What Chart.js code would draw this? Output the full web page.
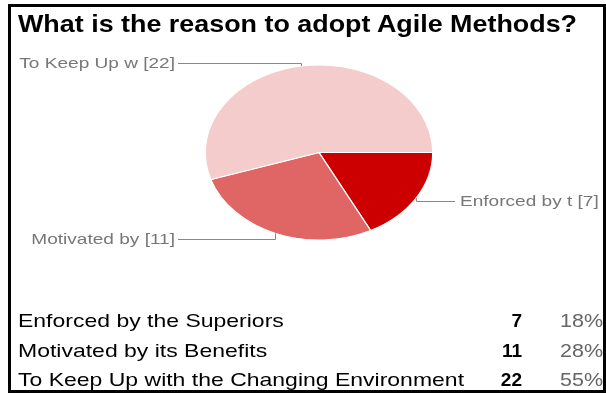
<!DOCTYPE html>
<html>
<head>
<meta charset="utf-8">
<script src="https://cdn.jsdelivr.net/npm/chart.js@4.4.1/dist/chart.umd.min.js"></script>
<style>
  body { margin: 0; background: #fff; }
  #wrap { position: relative; width: 606px; height: 394px; overflow: hidden; font-family: "Liberation Sans", Arial, sans-serif; }
  #frame { position: absolute; left: 8px; top: 4px; width: 598px; height: 389px; border: 3px solid #000; box-sizing: border-box; }
  #pie { position: absolute; left: 0; top: 0; }
  #title { position: absolute; left: 18px; top: 12px; font-size: 24px; line-height: 24px; font-weight: bold; color: #000; white-space: nowrap; transform: scaleX(1.12); transform-origin: left center; }
  .row { position: absolute; left: 0; width: 606px; height: 19px; font-size: 19px; line-height: 19px; }
  .row span { position: absolute; top: 0; white-space: nowrap; }
  .lbl { left: 18px; color: #000; transform: scaleX(1.21); transform-origin: left center; }
  .val { right: 84px; font-weight: bold; color: #000; }
  .pct { right: 3px; color: #666; transform: scaleX(1.13); transform-origin: right center; }
</style>
</head>
<body>
<div id="wrap">
  <canvas id="pie" width="606" height="394"></canvas>
  <div id="frame"></div>
  <div id="title">What is the reason to adopt Agile Methods?</div>
  <div id="table"></div>
</div>
<script>
// answers, counts and the cut-off names shown next to the pie
let categories = ["Enforced by the Superiors", "Motivated by its Benefits", "To Keep Up with the Changing Environment"];
let shortLabels = ["Enforced by t", "Motivated by", "To Keep Up w"];
let counts = [7, 11, 22];
let sliceColors = ["#cc0000", "#e06666", "#f4cccc"];

let stretchX = 1.3; // the reference picture is stretched sideways
let labelStretch = 1.27;

// build the table under the chart
let total = counts.reduce((a, b) => a + b, 0);
let tableDiv = document.getElementById("table");
let rowTops = [311, 341, 370];
categories.forEach(function (name, i) {
  let row = document.createElement("div");
  row.className = "row";
  row.style.top = rowTops[i] + "px";
  let pct = Math.round((counts[i] / total) * 100) + "%";
  row.innerHTML = `<span class="lbl">${name}</span><span class="val">${counts[i]}</span><span class="pct">${pct}</span>`;
  tableDiv.appendChild(row);
});

// squash the pie into an ellipse
let ellipsePlugin = {
  id: "ellipse",
  beforeDatasetsDraw(chart) {
    let arc = chart.getDatasetMeta(0).data[0];
    let ctx = chart.ctx;
    ctx.save();
    ctx.translate(arc.x, arc.y);
    ctx.scale(stretchX, 1);
    ctx.translate(-arc.x, -arc.y);
  },
  afterDatasetsDraw(chart) {
    chart.ctx.restore();
  },
};

// leader lines and slice labels
let labelPlugin = {
  id: "sliceLabels",
  afterDraw(chart) {
    let ctx = chart.ctx;
    let arcs = chart.getDatasetMeta(0).data;
    ctx.save();
    ctx.font = "15px 'Liberation Sans', Arial, sans-serif";
    ctx.fillStyle = "#777";
    ctx.strokeStyle = "#888";
    ctx.lineWidth = 1;
    ctx.textBaseline = "middle";
    arcs.forEach(function (arc, i) {
      let mid = (arc.startAngle + arc.endAngle) / 2;
      let s = Math.sin(mid);
      let ax = arc.x + Math.cos(mid) * arc.outerRadius * stretchX;
      let ay = arc.y + s * arc.outerRadius;
      let ly = Math.round(ay + (s < 0 ? -3 : 6 * s)) + 0.5;
      let text = shortLabels[i] + " [" + counts[i] + "]";
      let left = Math.cos(mid) < 0;
      let endX = left ? 178 : 455;
      ctx.beginPath();
      ctx.moveTo(Math.round(ax) + 0.5, ay);
      ctx.lineTo(Math.round(ax) + 0.5, ly);
      ctx.lineTo(endX, ly);
      ctx.stroke();
      ctx.save();
      ctx.translate(left ? endX - 3 : endX + 5, ly);
      ctx.scale(labelStretch, 1);
      ctx.textAlign = left ? "right" : "left";
      ctx.fillText(text, 0, 0);
      ctx.restore();
    });
    ctx.restore();
  },
};

let chartCtx = document.getElementById("pie").getContext("2d");
let agileChart = new Chart(chartCtx, {
  type: "pie",
  data: {
    labels: categories,
    datasets: [
      {
        data: counts,
        backgroundColor: sliceColors,
        borderColor: "#fff",
        borderWidth: 1,
        hoverOffset: 0,
      },
    ],
  },
  options: {
    responsive: false,
    animation: false,
    rotation: 90,
    layout: { padding: { left: 231, right: 199, top: 64, bottom: 153 } },
    plugins: {
      legend: { display: false },
      title: { display: false },
      tooltip: { enabled: false },
    },
  },
  plugins: [ellipsePlugin, labelPlugin],
});
</script>
</body>
</html>
